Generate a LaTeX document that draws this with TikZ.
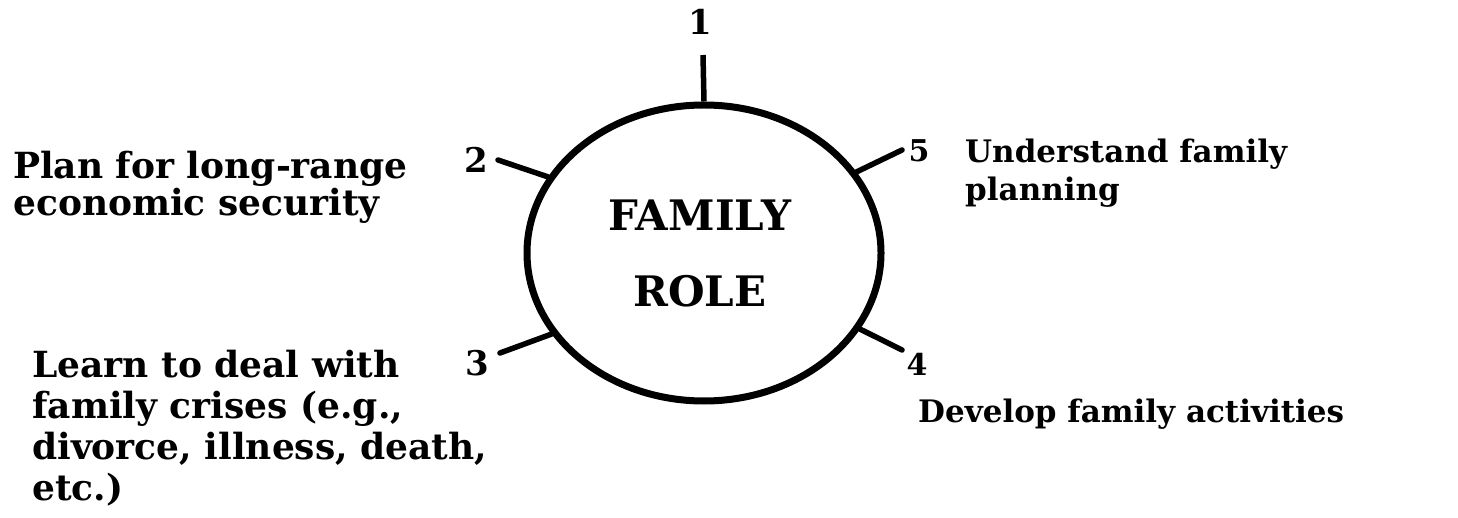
\documentclass[tikz,border=0pt]{standalone}
\usepackage{fontspec}
\setmainfont{DejaVu Serif}
\usetikzlibrary{shapes.geometric}
\tikzset{
  lbl/.style={anchor=north west, align=left, inner sep=0pt},
  num/.style={anchor=base, inner sep=0pt},
  spoke/.style={line width=5.5pt, line cap=round},
  ring/.style={ellipse, draw, line width=7pt, inner sep=0pt, minimum width=354pt, minimum height=296pt},
  title/.style={inner sep=0pt, font=\bfseries\fontsize{42}{42}\selectfont}
}
\begin{document}
\begin{tikzpicture}[x=1pt,y=-1pt]
\useasboundingbox (0,0) rectangle (1458,518);
\node[ring] (c) at (704,253) {};
\node[title] (fam) at (700,215) {FAMILY};
\node[title] (role) at (700,291) {ROLE};
% spoke ends
\coordinate (e1) at (703,55);
\coordinate (e2) at (498,160);
\coordinate (e3) at (500,353);
\coordinate (e4) at (902,350);
\coordinate (e5) at (902,150);
\draw[spoke, line cap=butt] (e1) -- (c.north);
\draw[spoke] (e2) -- (c.154);
\draw[spoke] (e3) -- (c.208);
\draw[spoke] (e4) -- (c.334.6);
\draw[spoke] (e5) -- (c.28);
% numbers
\node[num, font=\bfseries\fontsize{34}{34}\selectfont] (n1) at (700,35) {1};
\node[num, font=\bfseries\fontsize{34}{34}\selectfont] (n2) at (476,173) {2};
\node[num, font=\bfseries\fontsize{34}{34}\selectfont] (n3) at (477,375) {3};
\node[num, font=\bfseries\fontsize{30}{30}\selectfont] (n4) at (917,375) {4};
\node[num, font=\bfseries\fontsize{30}{30}\selectfont] (n5) at (919,162) {5};
% labels
\node[lbl, font=\bfseries\fontsize{36}{37}\selectfont] (t2) at (13,150.6) {Plan for long-range\\economic security};
\node[lbl, font=\bfseries\fontsize{36}{41}\selectfont] (t3) at (32,349.6) {Learn to deal with\\family crises (e.g.,\\divorce, illness, death,\\etc.)};
\node[lbl, font=\bfseries\fontsize{31}{38}\selectfont] (t5) at (965,138.4) {Understand family\\planning};
\node[lbl, font=\bfseries\fontsize{31}{38}\selectfont] (t4) at (918,398.4) {Develop family activities};
\end{tikzpicture}
\end{document}
